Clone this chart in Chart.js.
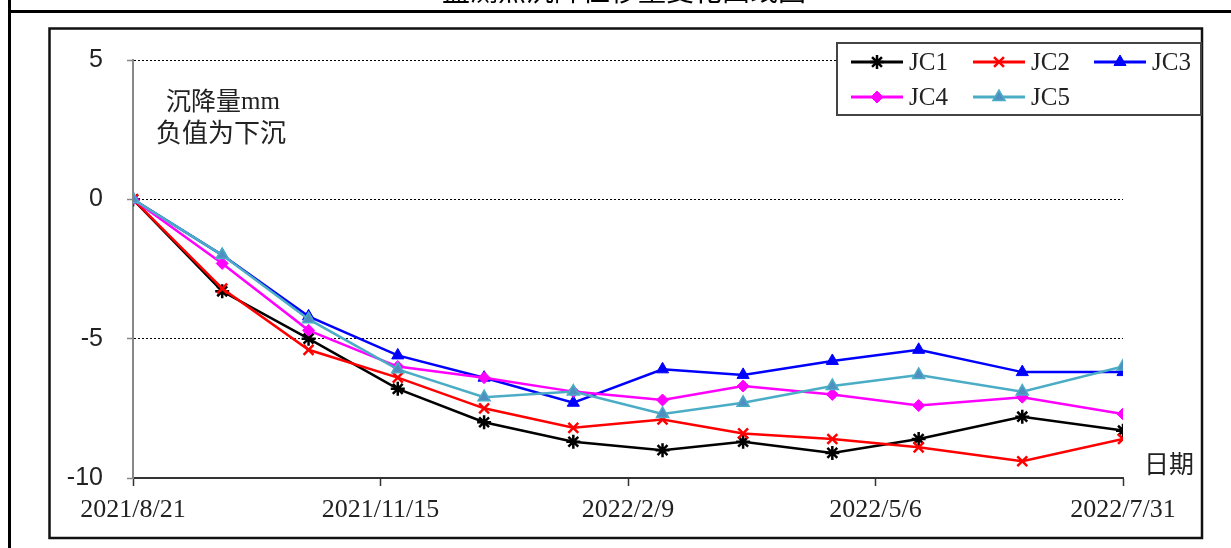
<!DOCTYPE html>
<html>
<head>
<meta charset="utf-8">
<script src="https://cdn.jsdelivr.net/npm/chart.js@4"></script>
<style>
  html, body { margin: 0; padding: 0; background: #fff; }
  canvas { display: block; }
</style>
</head>
<body>
<canvas id="settleChart" width="1231" height="548"></canvas>
<script>
// measuring dates and settlement (mm) per point
const dates = ['2021/8/21', '2021/9/21', '2021/10/21', '2021/11/21', '2021/12/21', '2022/1/21',
               '2022/2/21', '2022/3/21', '2022/4/21', '2022/5/21', '2022/6/26', '2022/7/31'];
const jc1 = [0, -3.3, -5.0, -6.8, -8.0, -8.7, -9.0, -8.7, -9.1, -8.6, -7.8, -8.3];
const jc2 = [0, -3.2, -5.4, -6.4, -7.5, -8.2, -7.9, -8.4, -8.6, -8.9, -9.4, -8.6];
const jc3 = [0, -2.0, -4.2, -5.6, -6.4, -7.3, -6.1, -6.3, -5.8, -5.4, -6.2, -6.2];
const jc4 = [0, -2.3, -4.7, -6.0, -6.4, -6.9, -7.2, -6.7, -7.0, -7.4, -7.1, -7.7];
const jc5 = [0, -2.0, -4.3, -6.1, -7.1, -6.9, -7.7, -7.3, -6.7, -6.3, -6.9, -6.0];
const seriesNames = ['JC1', 'JC2', 'JC3', 'JC4', 'JC5'];
const xTickLabels = ['2021/8/21', '2021/11/15', '2022/2/9', '2022/5/6', '2022/7/31'];
const yTicks = [5, 0, -5, -10];

const startDate = dates[0];
function dayOf(s) {
    const [y, m, d] = s.split('/').map(Number);
    const [y0, m0, d0] = startDate.split('/').map(Number);
    return Math.round((Date.UTC(y, m - 1, d) - Date.UTC(y0, m0 - 1, d0)) / 86400000);
}
const xDays = dates.map(dayOf);
const xMax = dayOf(xTickLabels[xTickLabels.length - 1]);

function pts(values) {
    return values.map((v, i) => ({ x: xDays[i], y: v }));
}

const styles = [
    { color: '#000000', fill: '#000000', pointStyle: 'star', radius: 7, pw: 2.5 },
    { color: '#ff0000', fill: '#ff0000', pointStyle: 'crossRot', radius: 7, pw: 2.5 },
    { color: '#0000ff', fill: '#0000ff', pointStyle: 'triangle', radius: 7, pw: 1 },
    { color: '#ff00ff', fill: '#ff00ff', pointStyle: 'rectRot', radius: 6, pw: 1 },
    { color: '#4bacc6', fill: '#4f8fc0', pointStyle: 'triangle', radius: 7, pw: 1.5 }
];
const allValues = [jc1, jc2, jc3, jc4, jc5];

const datasets = allValues.map((vals, i) => ({
    label: seriesNames[i],
    data: pts(vals),
    borderColor: styles[i].color,
    backgroundColor: styles[i].fill,
    pointBorderColor: styles[i].color,
    pointBackgroundColor: styles[i].fill,
    pointStyle: styles[i].pointStyle,
    pointRadius: styles[i].radius,
    pointBorderWidth: styles[i].pw,
    borderWidth: 2.5,
    tension: 0,
    fill: false,
    order: allValues.length - i
}));

// frames, legend box and free text
const decor = {
    id: 'decor',
    beforeDraw(chart) {
        const c = chart.ctx;
        c.save();
        c.fillStyle = '#fff';
        c.fillRect(0, 0, chart.width, chart.height);
        c.restore();
    },
    afterDraw(chart) {
        const c = chart.ctx;
        c.save();
        // outer table lines
        c.strokeStyle = '#000';
        c.lineWidth = 3;
        c.beginPath();
        c.moveTo(9.5, 0); c.lineTo(9.5, 548);
        c.moveTo(8, 11.5); c.lineTo(1231, 11.5);
        c.stroke();
        // chart frame
        c.lineWidth = 2.5;
        c.strokeStyle = '#111';
        c.strokeRect(49.5, 28.5, 1152.5, 509.5);

        // title (mostly cut off at the top)
        c.fillStyle = '#000';
        c.font = '28px "Noto Sans CJK SC"';
        c.textAlign = 'center';
        c.textBaseline = 'alphabetic';
        c.fillText('监测点沉降位移量变化曲线图', 624, 1);

        // annotation text
        c.fillStyle = '#222';
        c.font = '25px "Noto Sans CJK SC"';
        c.textAlign = 'left';
        c.textBaseline = 'middle';
        c.fillText('沉降量', 166, 100);
        c.font = '25px "Liberation Serif"';
        c.fillText('mm', 241, 102);
        c.font = '26px "Noto Sans CJK SC"';
        c.fillText('负值为下沉', 156, 132);
        c.font = '25px "Noto Sans CJK SC"';
        c.fillText('日期', 1144, 463);

        // legend
        c.fillStyle = '#fff';
        c.fillRect(837, 43, 364, 72);
        c.strokeStyle = '#444';
        c.lineWidth = 2;
        c.strokeRect(837, 43, 364, 72);
        const colX = [851, 973, 1094];
        const rowY = [62, 97];
        chart.data.datasets.forEach((ds, i) => {
            const x0 = colX[i % 3];
            const y0 = rowY[Math.floor(i / 3)];
            c.strokeStyle = ds.borderColor;
            c.lineWidth = 3;
            c.beginPath();
            c.moveTo(x0, y0); c.lineTo(x0 + 52, y0);
            c.stroke();
            c.fillStyle = ds.pointBackgroundColor;
            c.strokeStyle = ds.pointBorderColor;
            c.lineWidth = ds.pointBorderWidth;
            Chart.helpers.drawPoint(c, {
                pointStyle: ds.pointStyle,
                radius: ds.pointRadius,
                borderWidth: ds.pointBorderWidth,
                rotation: 0
            }, x0 + 26, y0);
            c.fillStyle = '#222';
            c.font = '25px "Liberation Serif"';
            c.textAlign = 'left';
            c.textBaseline = 'middle';
            c.fillText(ds.label, x0 + 58, y0 + 1);
        });
        c.restore();
    }
};

const ctx = document.getElementById('settleChart').getContext('2d');
const settleChart = new Chart(ctx, {
    type: 'line',
    data: { datasets: datasets },
    options: {
        responsive: false,
        animation: false,
        devicePixelRatio: 1,
        layout: { padding: { left: 0, top: 60, right: 108, bottom: 0 } },
        plugins: {
            legend: { display: false },
            tooltip: { enabled: false }
        },
        scales: {
            x: {
                type: 'linear',
                min: 0,
                max: xMax,
                afterFit(scale) { scale.height = 70; },
                afterBuildTicks(scale) {
                    scale.ticks = xTickLabels.map(dayOf).map(v => ({ value: v }));
                },
                ticks: {
                    autoSkip: false,
                    maxRotation: 0,
                    padding: 9,
                    color: '#222',
                    font: { family: 'Liberation Serif', size: 26 },
                    callback: (v, i) => xTickLabels[i]
                },
                grid: {
                    drawOnChartArea: false,
                    drawTicks: true,
                    tickLength: 8,
                    tickColor: '#333',
                    tickWidth: 1.5
                },
                border: { color: '#333', width: 2 }
            },
            y: {
                min: yTicks[yTicks.length - 1],
                max: yTicks[0],
                afterFit(scale) { scale.width = 133; },
                afterBuildTicks(scale) {
                    scale.ticks = yTicks.map(v => ({ value: v }));
                },
                ticks: {
                    padding: 24,
                    color: '#222',
                    font: { family: 'Liberation Sans', size: 25 }
                },
                grid: {
                    color: c => (c.tick && c.tick.value === yTicks[yTicks.length - 1]) ? 'rgba(0,0,0,0)' : '#000',
                    lineWidth: 1,
                    tickBorderDash: [],
                    tickColor: '#888',
                    tickLength: 6,
                    tickWidth: 1.5
                },
                border: { color: '#888', width: 2, dash: [2, 2] }
            }
        }
    },
    plugins: [decor]
});
</script>
</body>
</html>
